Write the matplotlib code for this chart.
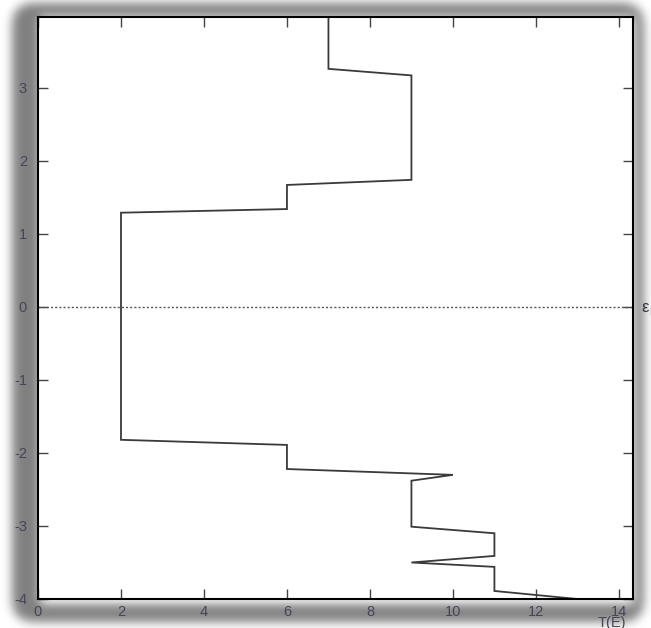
import numpy as np
import matplotlib
matplotlib.use("Agg")
import matplotlib.pyplot as plt

plt.rcParams['font.family'] = ['Liberation Sans', 'DejaVu Sans']
plt.rcParams['axes.unicode_minus'] = False

# Data
t_values = [7, 7, 9, 9, 6, 6, 2, 2, 6, 6, 10, 9, 9, 11, 11, 9, 11, 11, 13]
energy = [4.0, 3.26, 3.17, 1.74, 1.67, 1.34, 1.29, -1.82, -1.89, -2.22, -2.30,
          -2.38, -3.01, -3.10, -3.41, -3.50, -3.56, -3.89, -4.0]
x_ticks = [0, 2, 4, 6, 8, 10, 12, 14]
y_ticks = [-4, -3, -2, -1, 0, 1, 2, 3]
y_tick_labels = ['-4', '-3', '-2', '-1', '0', '1', '2', '3']

W, H = 651, 628
fig = plt.figure(figsize=(W / 100, H / 100), dpi=100)

# ---- background shadow frame ----
yy, xx = np.mgrid[0:H, 0:W].astype(float)

def rrect(x0, x1, y0, y1, r):
    cx = np.clip(xx, x0 + r, x1 - r)
    cy = np.clip(yy, y0 + r, y1 - r)
    return ((xx - cx) ** 2 + (yy - cy) ** 2) <= r * r

outer = rrect(12, 643, 3, 621, 18)
inner = (xx >= 40) & (xx <= 633) & (yy >= 17) & (yy <= 603)
dark = (outer & ~inner).astype(float)

def blur(a, s):
    t = np.arange(-int(3 * s), int(3 * s) + 1)
    k = np.exp(-t ** 2 / (2 * s * s))
    k /= k.sum()
    p = len(t) // 2
    a = np.pad(a, p, mode='edge')
    a = np.apply_along_axis(lambda r: np.convolve(r, k, 'same'), 1, a)
    a = np.apply_along_axis(lambda r: np.convolve(r, k, 'same'), 0, a)
    return a[p:-p, p:-p]

img = 1 - 0.5 * blur(dark, 5)
bg = fig.add_axes([0, 0, 1, 1], zorder=-5)
bg.imshow(img, cmap='gray', vmin=0, vmax=1, extent=[0, W, H, 0], aspect='auto',
          interpolation='bilinear')
bg.set_xlim(0, W)
bg.set_ylim(H, 0)
bg.axis('off')

# ---- main axes ----
left, right, top, bottom = 38, 633, 17, 599
ax = fig.add_axes([left / W, (H - bottom) / H, (right - left) / W, (bottom - top) / H])
ax.set_facecolor('white')

ax.plot(t_values, energy, color='#3a3a3a', lw=1.3, solid_joinstyle='miter', clip_on=True)
ax.axhline(0, color='#555555', lw=1.0, ls=(0, (1.5, 1.5)))

ax.set_xlim(0, 14.34)
ax.set_ylim(-4, 3.97)
ax.set_xticks(x_ticks)
ax.set_yticks(y_ticks)
ax.set_yticklabels(y_tick_labels)

ax.tick_params(direction='in', length=7, width=1, color='#444444',
               top=True, right=True, labelsize=10.5, labelcolor='#454558')
ax.tick_params(axis='y', pad=8)
ax.tick_params(axis='x', pad=4)
for s in ax.spines.values():
    s.set_color('black')
    s.set_linewidth(1.5)

fig.text(641 / W, 1 - 308 / H, 'ε', fontsize=12, color='#333340',
         ha='left', va='center')
fig.text(649 / W, 1 - 312 / H, 'F', fontsize=8, color='#333340',
         ha='left', va='center')
fig.text(612 / W, 1 - 616 / H, 'T(E)', fontsize=10.5, color='#454558',
         ha='center', va='top')

fig.savefig('out.png', dpi=100)
